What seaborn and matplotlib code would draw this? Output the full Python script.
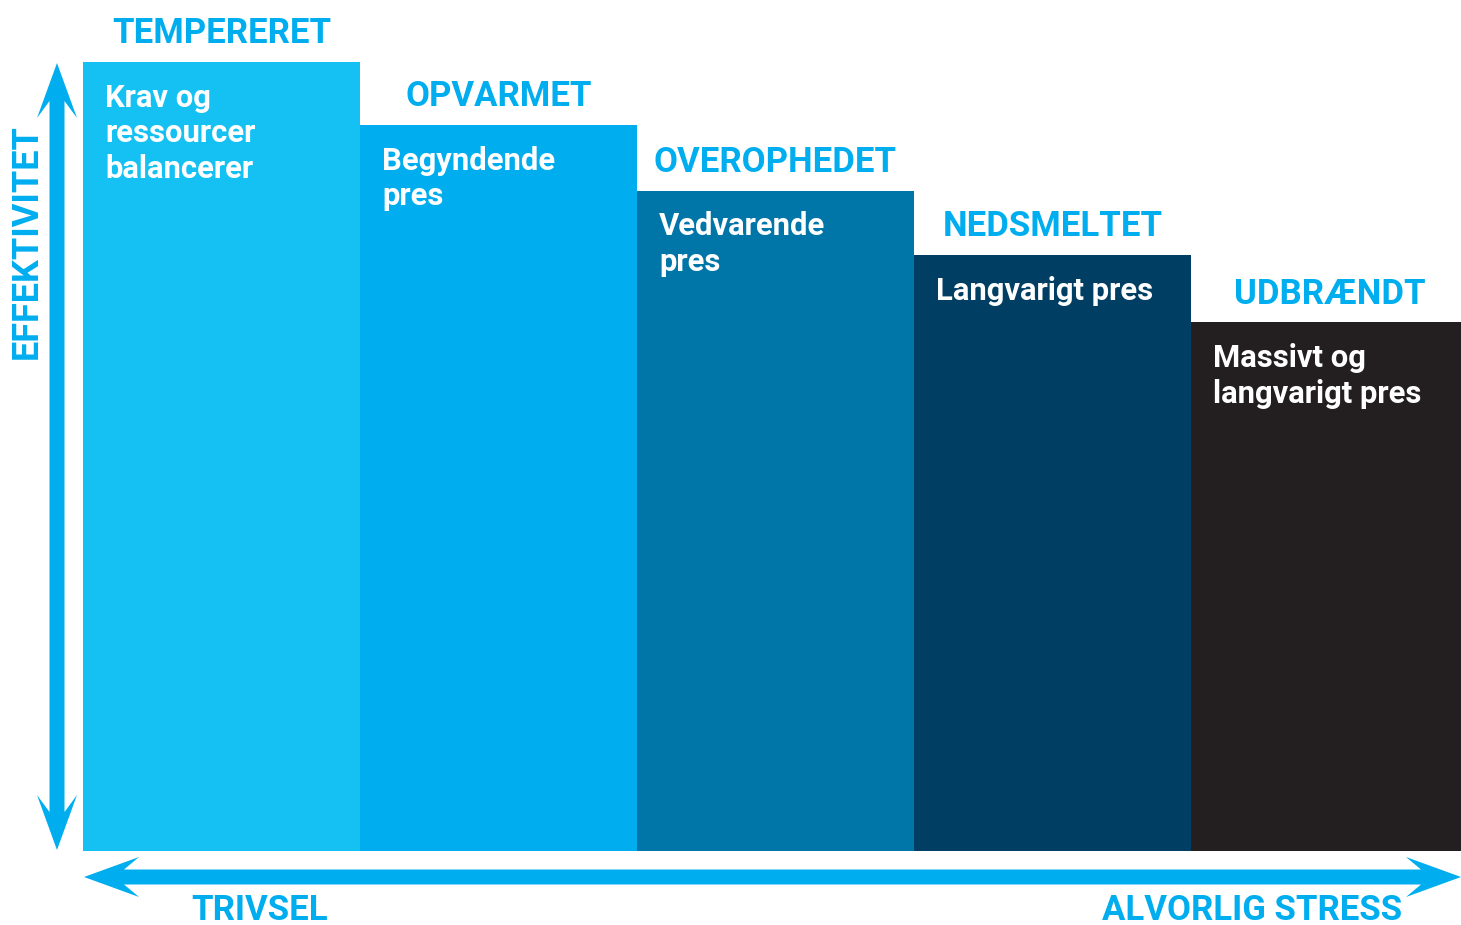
import matplotlib
matplotlib.use("Agg")
import matplotlib.pyplot as plt
import seaborn as sns
import pandas as pd
from matplotlib.patches import Polygon

# data
stages = ["TEMPERERET", "OPVARMET", "OVEROPHEDET", "NEDSMELTET", "UDBRÆNDT"]
effect = [100, 92.0, 83.7, 75.5, 67.0]
descriptions = ["Krav og\nressourcer\nbalancerer", "Begyndende\npres", "Vedvarende\npres",
                "Langvarigt pres", "Massivt og\nlangvarigt pres"]
colors = ["#15c1f2", "#00aeef", "#0076a8", "#003f63", "#231f20"]
y_label = "EFFEKTIVITET"
x_left_label = "TRIVSEL"
x_right_label = "ALVORLIG STRESS"

accent = "#00aeef"
W, H = 1461, 925

sns.set_theme(style="white")
plt.rcParams["font.family"] = ["Roboto", "DejaVu Sans"]
head_font = ["Roboto", "DejaVu Sans"]
head_size = 25

df = pd.DataFrame({"stage": stages, "effect": effect})

fig = plt.figure(figsize=(W / 100, H / 100), dpi=100)
# axes: bars from x=83px, bottom at y=851px, top of first bar at y=62px, 277px per bar
ax = fig.add_axes([83 / W, (H - 851) / H, 277 * 5 / W, 789 / H])
sns.barplot(data=df, x="stage", y="effect", hue="stage", palette=colors,
            width=1.0, saturation=1, legend=False, ax=ax, linewidth=0)
ax.set_xlim(-0.5, 4.5)
ax.set_ylim(0, 100)
ax.set_axis_off()

for i, (name, val, desc) in enumerate(zip(stages, effect, descriptions)):
    ax.annotate(name, (i, val), xytext=(0, 8.5), textcoords="offset points",
                ha="center", va="bottom", fontsize=head_size, fontweight="bold",
                color=accent, family=head_font, annotation_clip=False)
    ax.annotate(desc, (i - 0.5, val), xytext=(16, -15), textcoords="offset points",
                ha="left", va="top", fontsize=22.3, fontweight="bold",
                color="white", linespacing=1.23)


def px(x, y):
    return (x / W, 1 - y / H)


def double_arrow(p0, p1, shaft, head_w, head_l, notch):
    # swept-back double headed arrow between two pixel points (horizontal or vertical)
    (x0, y0), (x1, y1) = p0, p1
    if y0 == y1:
        pts = [(x0, y0), (x0 + head_l, y0 - head_w), (x0 + notch, y0 - shaft),
               (x1 - notch, y1 - shaft), (x1 - head_l, y1 - head_w), (x1, y1),
               (x1 - head_l, y1 + head_w), (x1 - notch, y1 + shaft),
               (x0 + notch, y0 + shaft), (x0 + head_l, y0 + head_w)]
    else:
        pts = [(x0, y0), (x0 + head_w, y0 + head_l), (x0 + shaft, y0 + notch),
               (x1 + shaft, y1 - notch), (x1 + head_w, y1 - head_l), (x1, y1),
               (x1 - head_w, y1 - head_l), (x1 - shaft, y1 - notch),
               (x0 - shaft, y0 + notch), (x0 - head_w, y0 + head_l)]
    poly = Polygon([px(*p) for p in pts], closed=True, transform=fig.transFigure,
                   facecolor=accent, edgecolor="none")
    fig.patches.append(poly)


double_arrow((57, 63), (57, 850), shaft=7.5, head_w=20, head_l=55, notch=38)
double_arrow((84, 877), (1461, 877), shaft=7.5, head_w=20, head_l=55, notch=40)

fig.text(*px(27, 242), y_label, rotation=90, ha="center", va="center",
         fontsize=head_size + 1, fontweight="bold", color=accent, family=head_font)
fig.text(*px(260, 911), x_left_label, ha="center", va="center",
         fontsize=head_size, fontweight="bold", color=accent, family=head_font)
fig.text(*px(1252, 911), x_right_label, ha="center", va="center",
         fontsize=head_size, fontweight="bold", color=accent, family=head_font)

fig.savefig("out.png", dpi=100, facecolor="white")
